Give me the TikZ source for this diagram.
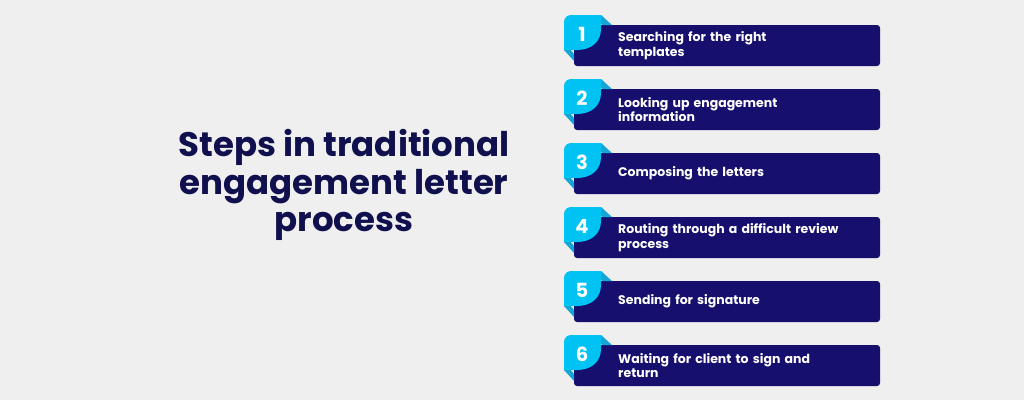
\documentclass[tikz,border=0pt]{standalone}
\usepackage{fontspec}
\setmainfont{Poppins}
\definecolor{bgc}{HTML}{EFEFEF}
\definecolor{titlec}{HTML}{10104E}
\definecolor{boxc}{HTML}{170F6E}
\definecolor{cyanc}{HTML}{00C3F4}
\definecolor{foldc}{HTML}{17A5D6}
\tikzset{
  stepbox/.style={fill=boxc, draw=none, rounded corners=3pt, minimum width=306pt, minimum height=41pt, inner sep=0pt},
  steptext/.style={anchor=west, text=white, font=\fontsize{12.5}{14.5}\selectfont\bfseries, align=left, text width=250pt, inner sep=0pt},
  stepnum/.style={text=white, font=\fontsize{19.5}{20}\selectfont\bfseries, inner sep=0pt},
  titletext/.style={text=titlec, font=\fontsize{34}{37.5}\selectfont\bfseries, align=center, inner sep=0pt}
}
\begin{document}
\begin{tikzpicture}[x=1pt,y=-1pt]
\fill[bgc] (0,0) rectangle (1024,400);
\useasboundingbox (0,0) rectangle (1024,400);
\node[titletext] (title) at (344,185) {Steps in traditional\\engagement letter\\process};
\foreach \i/\txt in {1/{Searching for the right\\templates},2/{Looking up engagement\\information},3/{Composing the letters},4/{Routing through a difficult review\\process},5/{Sending for signature},6/{Waiting for client to sign and\\return}}{
  \pgfmathsetmacro\t{25+64*(\i-1)}
  \node[stepbox] (b\i) at (727,\t+20.5) {};
  \fill[foldc] (596,\t-10) -- (601,\t-10) -- (612,\t) -- (602,\t) -- cycle;
  \fill[foldc] (564,\t+17) -- (574,\t+29) -- (574,\t+36) -- (564,\t+25) -- cycle;
  \fill[cyanc] (571,\t-10) -- (601,\t-10) -- (601,\t+4)
     .. controls (601,\t+17) and (591,\t+25) .. (577,\t+25)
     -- (564,\t+25) -- (564,\t-3)
     .. controls (564,\t-6.9) and (567.1,\t-10) .. (571,\t-10) -- cycle;
  \node[stepnum] (n\i) at (582,\t+9) {\i};
  \node[steptext] (t\i) at (618,\t+20.5) {\txt};
}
\end{tikzpicture}
\end{document}
